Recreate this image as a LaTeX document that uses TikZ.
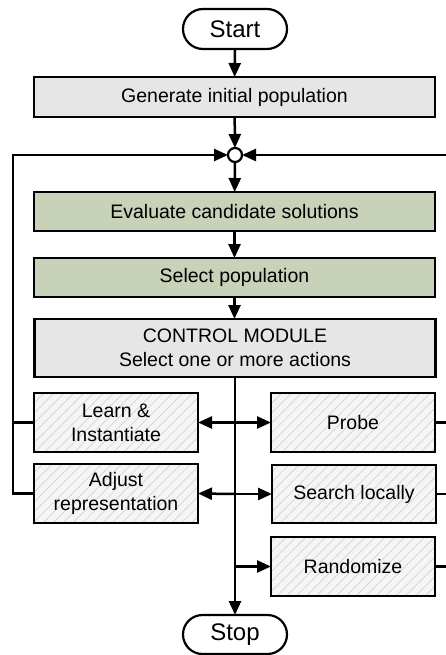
\documentclass[tikz,border=0pt]{standalone}
\usepackage{fontspec}
\setmainfont{Liberation Sans}
\usetikzlibrary{arrows.meta,patterns.meta}
\definecolor{boxgray}{RGB}{230,230,230}
\definecolor{boxgreen}{RGB}{200,210,185}
\definecolor{hatchbg}{RGB}{245,245,245}
\definecolor{hatchline}{RGB}{210,210,210}
\begin{document}
\begin{tikzpicture}[x=1pt,y=-1pt,
  every node/.style={font=\fontsize{19.5}{24}\selectfont},
  base/.style={draw=black, line width=2.2pt, inner sep=0pt, outer sep=0pt, align=center},
  terminal/.style={base, minimum width=104pt, minimum height=40pt, rounded corners=20pt, font=\fontsize{24}{28}\selectfont},
  graybox/.style={base, fill=boxgray, minimum width=401pt},
  greenbox/.style={base, fill=boxgreen, minimum width=401pt, minimum height=39pt},
  hatchbox/.style={base, minimum width=164pt, minimum height=59pt, preaction={fill=hatchbg},
    pattern={Lines[angle=45,distance=7pt,line width=0.7pt]}, pattern color=hatchline},
  junction/.style={draw=black, line width=2.2pt, fill=white, circle, minimum size=14pt, inner sep=0pt, outer sep=0pt},
  conn/.style={line width=2.5pt, draw=black},
  arr/.style={conn, -{Triangle[length=14pt,width=12pt]}}
]
\useasboundingbox (0,0) rectangle (446,655);
\clip (0,0) rectangle (446,655);

\node[terminal] (start) at (235,29) {Start};
\node[graybox, minimum height=40pt] (gen) at (234.5,97) {Generate initial population};
\node[junction] (circ) at (235,155) {};
\node[greenbox] (eval) at (234.5,211.5) {Evaluate candidate solutions};
\node[greenbox] (sel) at (234.5,277.5) {Select population};
\node[graybox, minimum height=58pt] (ctrl) at (235,348) {CONTROL MODULE\\Select one or more actions};
\node[hatchbox] (learn) at (116,422.5) {Learn \&\\Instantiate};
\node[hatchbox] (probe) at (353,422.5) {Probe};
\node[hatchbox] (adjust) at (116,493.5) {Adjust\\representation};
\node[hatchbox, minimum height=58pt] (search) at (354,494) {Search locally};
\node[hatchbox] (rand) at (353,566.5) {Randomize};
\node[terminal, minimum height=39pt, rounded corners=19.5pt] (stop) at (235,634.5) {Stop};

\coordinate (b1) at (235,422.5);
\coordinate (b2) at (235,494);
\coordinate (b3) at (235,566.5);
\coordinate (L1) at (13,422.5);
\coordinate (L2) at (13,493.5);
\coordinate (Ltop) at (13,155);
\coordinate (R1) at (450,422.5);
\coordinate (R2) at (450,494);
\coordinate (R3) at (450,566.5);
\coordinate (Rtop) at (450,155);

\draw[arr] (start) -- (gen);
\draw[arr] (gen) -- (circ);
\draw[arr] (circ) -- (eval);
\draw[arr] (eval) -- (sel);
\draw[arr] (sel.south) -- (sel.south |- ctrl.north);
\draw[arr] (ctrl.south -| stop.north) -- (stop.north);

\draw[arr] (b1) -- (learn.east);
\draw[arr] (b1) -- (probe.west);
\draw[arr] (b2) -- (adjust.east);
\draw[arr] (b2) -- (search.west);
\draw[arr] (b3) -- (rand.west);

\draw[conn] (learn.west) -- (L1);
\draw[arr, line join=miter] (adjust.west) -- (L2) -- (Ltop) -- (circ.west);
\draw[conn] (probe.east) -- (R1);
\draw[conn] (search.east) -- (R2);
\draw[arr, line join=miter] (rand.east) -- (R3) -- (Rtop) -- (circ.east);
\end{tikzpicture}
\end{document}
